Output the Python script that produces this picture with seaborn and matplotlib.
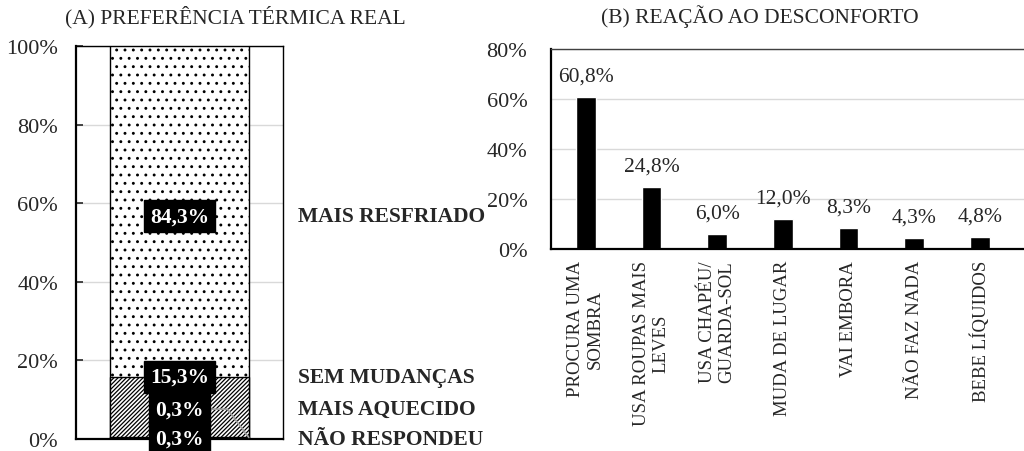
import pandas as pd
import matplotlib as mpl
import matplotlib.pyplot as plt
import seaborn as sns

# (A) thermal preference, bottom to top
pref_cats = ["NÃO RESPONDEU", "MAIS AQUECIDO", "SEM MUDANÇAS", "MAIS RESFRIADO"]
pref_vals = [0.3, 0.3, 15.3, 84.3]
pref_hatch = ["////////", "////////", "////////", ".."]
pref_label_y = [0.0, 7.6, 15.8, 56.7]  # where the value boxes sit

# (B) reaction to discomfort
react_cats = ["PROCURA UMA\nSOMBRA", "USA ROUPAS MAIS\nLEVES", "USA CHAPÉU/\nGUARDA-SOL",
              "MUDA DE LUGAR", "VAI EMBORA", "NÃO FAZ NADA", "BEBE LÍQUIDOS"]
react_vals = [60.8, 24.8, 6.0, 12.0, 8.3, 4.3, 4.8]


def pct(v):
    return f"{v:.1f}".replace(".", ",") + "%"


if __name__ == '__main__':
    sns.set_style("white")
    mpl.rcParams['font.family'] = ['Liberation Serif', 'DejaVu Serif']
    mpl.rcParams['hatch.linewidth'] = 0.9
    fs_tick = 16
    fs = 15.5

    fig = plt.figure(figsize=(10.24, 4.52), dpi=100)
    ax1 = fig.add_axes([0.0742, 0.0265, 0.2021, 0.8695])
    ax2 = fig.add_axes([0.538, 0.4469, 0.4619, 0.4425])

    # ---- panel A: stacked bar drawn as overlapping cumulative bars
    cum = pd.Series(pref_vals).cumsum().tolist()
    for i in range(len(cum) - 1, -1, -1):
        df = pd.DataFrame({"x": ["A"], "y": [cum[i]]})
        sns.barplot(data=df, x="x", y="y", ax=ax1, color="white", width=0.67,
                    edgecolor="black", linewidth=1.0, hatch=pref_hatch[i], zorder=2)
    for b in ax1.patches:
        b.set_facecolor("white")
    ax1.set_ylim(0, 100)
    ax1.set_yticks(range(0, 101, 20))
    ax1.set_yticklabels([f"{t}%" for t in range(0, 101, 20)], fontsize=fs_tick)
    ax1.set_xticks([])
    ax1.set_xlabel("")
    ax1.set_ylabel("")
    ax1.grid(axis="y", color="#d9d9d9", lw=1, zorder=0)
    ax1.set_axisbelow(True)
    ax1.tick_params(axis="y", direction="in", length=5, width=1.2, left=True, pad=13)
    for s in ["left", "bottom"]:
        ax1.spines[s].set_linewidth(1.6)
    for s in ["top", "right"]:
        ax1.spines[s].set_linewidth(1.0)
    for s in ax1.spines.values():
        s.set_color("black")

    for i, (cat, v, ly) in enumerate(zip(pref_cats, pref_vals, pref_label_y)):
        if i == 1:
            kw = dict(xy=(0.335, 0.4), arrowprops=dict(arrowstyle="-", color="#a0a0a0", lw=1.2,
                                                       shrinkA=0, shrinkB=0,
                                                       connectionstyle="angle,angleA=0,angleB=127,rad=0"))
        else:
            kw = dict(xy=(0, ly))
        ax1.annotate(pct(v), xytext=(0, ly), textcoords="data", ha="center", va="center",
                     fontsize=fs, fontweight="bold", color="white", zorder=5,
                     annotation_clip=False,
                     bbox=dict(boxstyle="square,pad=0.28", fc="black", ec="black"), **kw)
        ax1.text(1.075, ly, cat, transform=ax1.get_yaxis_transform(), ha="left", va="center",
                 fontsize=fs, fontweight="bold", clip_on=False)

    # ---- panel B: simple bars
    dfb = pd.DataFrame({"cat": react_cats, "val": react_vals})
    sns.barplot(data=dfb, x="cat", y="val", ax=ax2, color="black", width=0.3, saturation=1,
                zorder=2)
    ax2.set_ylim(0, 80)
    ax2.set_xlim(-0.53, 6.67)
    ax2.set_yticks(range(0, 81, 20))
    ax2.set_yticklabels([f"{t}%" for t in range(0, 81, 20)], fontsize=fs_tick)
    ax2.set_xticks(range(len(react_cats)))
    ax2.set_xticklabels(react_cats, rotation=90, ha="center", va="top", fontsize=13.5,
                        multialignment="center")
    ax2.set_xlabel("")
    ax2.set_ylabel("")
    ax2.tick_params(axis="y", length=0, pad=17)
    ax2.tick_params(axis="x", length=0, pad=8)
    ax2.grid(axis="y", color="#d9d9d9", lw=1, zorder=0)
    ax2.set_axisbelow(True)
    ax2.spines["left"].set_linewidth(1.6)
    ax2.spines["bottom"].set_linewidth(1.6)
    ax2.spines["top"].set_linewidth(1.0)
    ax2.spines["top"].set_color("#404040")
    ax2.spines["right"].set_visible(False)
    for s in ["left", "bottom"]:
        ax2.spines[s].set_color("black")
    for i, v in enumerate(react_vals):
        ax2.annotate(pct(v), xy=(i, v), xytext=(0, 15), textcoords="offset points",
                     ha="center", va="center", fontsize=fs)

    fig.text(235 / 1024, 1 - 17 / 452, "(A) PREFERÊNCIA TÉRMICA REAL", ha="center",
             va="center", fontsize=fs)
    fig.text(760 / 1024, 1 - 17 / 452, "(B) REAÇÃO AO DESCONFORTO", ha="center",
             va="center", fontsize=fs)

    fig.savefig("out.png", dpi=100)
